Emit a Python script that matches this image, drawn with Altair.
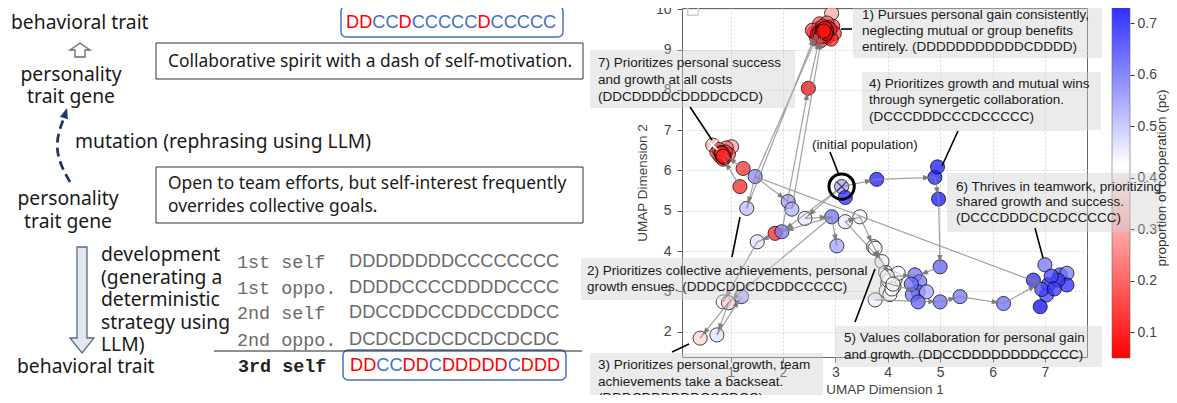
import math
import altair as alt
import pandas as pd

# ===================== data =====================
# UMAP scatter: dimension 1, dimension 2, proportion of cooperation (pc)
pt_x = [2.93, 2.60, 2.68, 2.78, 2.88, 2.74, 2.95, 2.64, 2.85, 2.72, 2.98, 2.80, 2.92, 2.70, 2.84, 2.56, 2.76, 2.66,
        2.74, 2.82, 2.78, 2.86, 2.70, 2.80, 2.90, 2.76, 2.84, 2.72,
        2.79, 2.81, 2.77, 2.83, 2.75, 2.80, 2.82, 2.78,
        2.485,
        0.66, 1.02, 0.92, 0.80, 0.88, 0.74, 0.96, 0.86, 0.78, 0.84, 0.90, 0.82, 0.88,
        0.85, 0.87, 0.83, 0.86,
        1.24, 1.18, 1.47, 1.31, 2.10, 2.17, 3.12, 3.19, 3.79, 2.42, 2.93, 3.19, 3.47, 1.85, 1.98, 1.51, 3.03, 3.73,
        0.86, 0.96, 1.21, 0.42, 0.74, 4.90, 4.95, 4.97, 5.00,
        3.76, 3.89, 3.96, 4.06, 4.00, 4.12, 3.97, 4.14, 4.04, 4.20, 3.76, 4.02, 4.08, 3.99, 4.10,
        4.52, 4.61, 4.58, 4.47, 4.74, 4.58, 4.45, 5.00, 5.38, 6.21,
        7.00, 6.78, 7.06, 7.03, 6.91, 7.29, 7.42, 7.42, 7.25, 7.12, 6.94, 7.18]
pt_y = [9.90, 9.42, 9.52, 9.56, 9.47, 9.36, 9.58, 9.30, 9.31, 9.22, 9.40, 9.44, 9.26, 9.64, 9.66, 9.48, 9.46, 9.40,
        9.50, 9.38, 9.45, 9.55, 9.42, 9.34, 9.50, 9.58, 9.44, 9.32,
        9.47, 9.43, 9.51, 9.49, 9.44, 9.53, 9.40, 9.46,
        8.04,
        6.63, 6.59, 6.56, 6.36, 6.42, 6.46, 6.40, 6.28, 6.52, 6.38, 6.46, 6.44, 6.32,
        6.41, 6.37, 6.43, 6.35,
        6.05, 5.60, 5.85, 5.06, 5.23, 5.04, 5.60, 5.33, 5.78, 4.81, 4.85, 4.73, 4.85, 4.44, 4.48, 4.23, 4.13, 4.11,
        2.74, 2.72, 2.87, 1.84, 1.92, 5.83, 6.09, 5.29, 3.61,
        4.07, 3.74, 3.47, 3.36, 3.20, 3.12, 3.02, 3.30, 2.92, 3.45, 2.79, 3.26, 3.06, 3.38, 3.18,
        3.41, 3.24, 2.99, 2.92, 2.99, 2.74, 3.18, 2.74, 2.87, 2.70,
        3.66, 3.28, 3.16, 2.91, 2.62, 3.41, 3.45, 3.16, 3.28, 3.38, 3.05, 3.06]
pt_pc = [0.30, 0.12, 0.10, 0.08, 0.12, 0.10, 0.16, 0.14, 0.09, 0.11, 0.14, 0.07, 0.10, 0.18, 0.20, 0.15, 0.06, 0.09,
         0.08, 0.10, 0.07, 0.12, 0.09, 0.11, 0.10, 0.13, 0.08, 0.12,
         0.08, 0.09, 0.07, 0.10, 0.08, 0.09, 0.07, 0.08,
         0.06,
         0.30, 0.28, 0.22, 0.12, 0.10, 0.16, 0.18, 0.12, 0.20, 0.10, 0.14, 0.11, 0.13,
         0.10, 0.11, 0.12, 0.10,
         0.12, 0.10, 0.60, 0.52, 0.57, 0.54, 0.56, 0.74, 0.76, 0.46, 0.63, 0.46, 0.44, 0.10, 0.62, 0.47, 0.56, 0.43,
         0.42, 0.35, 0.56, 0.36, 0.47, 0.76, 0.76, 0.77, 0.66,
         0.42, 0.45, 0.43, 0.42, 0.41, 0.43, 0.42, 0.44, 0.41, 0.44, 0.45, 0.42, 0.43, 0.41, 0.44,
         0.63, 0.63, 0.66, 0.63, 0.56, 0.66, 0.64, 0.64, 0.63, 0.64,
         0.63, 0.74, 0.72, 0.70, 0.78, 0.70, 0.62, 0.74, 0.72, 0.70, 0.70, 0.72]
assert len(pt_x) == len(pt_y) == len(pt_pc)

# evolution arrows (parent -> offspring) in UMAP coordinates
ar_x0 = [1.98, 2.485, 1.31, 2.17, 1.47, 1.18, 1.24, 1.47, 1.47, 1.47, 3.12, 3.79, 4.90, 4.97, 5.00, 3.12, 2.93,
         2.93, 2.42, 1.51, 1.98, 0.96, 0.96, 0.74, 2.93, 3.19, 3.47, 3.73, 3.89, 4.06, 4.00, 3.76, 5.00, 5.38,
         6.21, 3.19, 3.12]
ar_y0 = [4.48, 8.04, 5.06, 5.04, 5.85, 5.60, 6.05, 5.85, 5.85, 5.85, 5.60, 5.78, 5.83, 5.29, 3.61, 5.60, 4.85,
         4.85, 4.81, 4.23, 4.48, 2.72, 2.72, 1.92, 4.85, 4.73, 4.85, 4.11, 3.74, 3.36, 3.20, 2.79, 2.74, 2.87,
         2.70, 4.73, 5.60]
ar_x1 = [2.485, 2.70, 2.62, 2.74, 2.66, 0.86, 0.90, 1.31, 6.94, 2.10, 3.79, 4.90, 4.97, 5.00, 4.55, 1.98, 1.98,
         0.96, 2.93, 0.86, 1.51, 0.42, 0.74, 1.21, 3.03, 3.47, 3.73, 3.89, 4.06, 4.52, 4.58, 5.00, 5.38, 6.21,
         6.90, 3.89, 2.42]
ar_y1 = [8.04, 9.30, 9.38, 9.30, 9.36, 6.30, 6.38, 5.06, 3.18, 5.23, 5.78, 5.83, 5.29, 3.61, 3.38, 4.48, 4.48,
         2.72, 4.85, 2.74, 4.23, 1.84, 1.92, 2.87, 4.13, 4.85, 4.11, 3.74, 3.36, 3.41, 2.99, 2.74, 2.87, 2.70,
         3.20, 3.74, 4.81]

initial_xy = (3.12, 5.60)
cross7_xy = (0.66, 6.63)
pc_range = [0.05, 0.8]
pc_ticks = [0.1, 0.2, 0.3, 0.4, 0.5, 0.6, 0.7]
x_ticks = [1, 2, 3, 4, 5, 6, 7]
y_ticks = [2, 3, 4, 5, 6, 7, 8, 9, 10]

ann_text = {
    "1": ["1) Pursues personal gain consistently,", "neglecting mutual or group benefits",
          "entirely. (DDDDDDDDDDDCDDDD)"],
    "4": ["4) Prioritizes growth and mutual wins", "through synergetic collaboration.", "(DCCCDDDCCCDCCCCC)"],
    "7": ["7) Prioritizes personal success", "and growth at all costs", "(DDCDDDDCDDDDCDCD)"],
    "6": ["6) Thrives in teamwork, prioritizing", "shared growth and success.", "(DCCCDDDCDCDCCCCC)"],
    "5": ["5) Values collaboration for personal gain", "and growth. (DDCCDDDDDDDDCCCC)"],
    "2": ["2) Prioritizes collective achievements, personal", "growth ensues. (DDDCDDCDCDDCCCCC)"],
    "3": ["3) Prioritizes personal growth, team", "achievements take a backseat.", "(DDDCDDDDDDCCCDCC)"],
}
initial_label = "(initial population)"
cbar_title = "proportion of cooperation (pc)"

# diagram texts
lbl_behavior = "behavioral trait"
lbl_gene = ["personality", "trait gene"]
lbl_mutation = "mutation (rephrasing using LLM)"
lbl_dev = ["development", "(generating a", "deterministic", "strategy using", "LLM)"]
gene_new = "Collaborative spirit with a dash of self-motivation."
gene_old = ["Open to team efforts, but self-interest frequently", "overrides collective goals."]
seq_top = "DDCCDCCCCCDCCCCC"
table_labels = ["1st self", "1st oppo.", "2nd self", "2nd oppo."]
table_seqs = ["DDDDDDDDCCCCCCCC", "DDDDCCCCDDDDCCCC", "DDCCDDCCDDCCDDCC", "DCDCDCDCDCDCDCDC"]
third_label = "3rd self"
seq_third = "DDCCDDCDDDDDCDDD"

# ===================== layout (page pixels) =====================
OX, OY = 682, 8          # plot-area origin on the page
W, H = 405, 349
XMIN, XMAX = 0.074, 7.803
YMIN, YMAX = 1.372, 10.032
KX = W / (XMAX - XMIN)
KY = H / (YMAX - YMIN)

RED, BLUE = "#ff0000", "#4472c4"
DARK = "#1a1a1a"
SANS = "Liberation Sans"
DIAG = "Noto Sans"
MONO = "Liberation Mono"

xs = alt.Scale(domain=[XMIN, XMAX], nice=False, zero=False)
ys = alt.Scale(domain=[YMIN, YMAX], nice=False, zero=False)
xaxis = alt.Axis(values=x_ticks, title="UMAP Dimension 1", grid=True, domain=False, labelFlush=False,
                 tickSize=5, labelPadding=3, titlePadding=3)
yaxis = alt.Axis(values=y_ticks, title="UMAP Dimension 2", grid=True, domain=False, labelFlush=False,
                 tickSize=5, labelPadding=6, titlePadding=6, orient="left")
XE = alt.X("x:Q", scale=xs, axis=xaxis)
YE = alt.Y("y:Q", scale=ys, axis=yaxis)


def PX(v):
    return alt.X(f"{v}:Q", scale=None, axis=None)


def PY(v):
    return alt.Y(f"{v}:Q", scale=None, axis=None)


def pix_text(rows, **mk):
    df = pd.DataFrame([{"px": x - OX, "py": y - OY, "t": t} for t, x, y in rows])
    return alt.Chart(df).mark_text(baseline="middle", **mk).encode(x=PX("px"), y=PY("py"), text="t:N")


def pix_rects(rows, **mk):
    df = pd.DataFrame([{"px": a - OX, "px2": b - OX, "py": c - OY, "py2": d - OY} for a, b, c, d in rows])
    return alt.Chart(df).mark_rect(**mk).encode(x=PX("px"), x2="px2:Q", y=PY("py"), y2="py2:Q")


def pix_rules(rows, **mk):
    df = pd.DataFrame([{"px": a - OX, "px2": c - OX, "py": b - OY, "py2": d - OY} for a, b, c, d in rows])
    return alt.Chart(df).mark_rule(**mk).encode(x=PX("px"), x2="px2:Q", y=PY("py"), y2="py2:Q")


# ---------------- colour bar (gradient rect + its own axis) ----------------
pcs = alt.Scale(domain=pc_range, range=[358 - OY, -28 - OY], nice=False, zero=False)
pcaxis = alt.Axis(orient="right", offset=1130 - (OX + W), values=pc_ticks, format=".1f", title=None,
                  grid=False, domain=False, tickSize=4, labelPadding=3, labelFlush=False, tickColor="#333")
grad = alt.LinearGradient(gradient="linear", x1=0, x2=0, y1=1, y2=0,
                          stops=[alt.GradientStop(color="#ff0000", offset=0),
                                 alt.GradientStop(color="#ffffff", offset=0.5),
                                 alt.GradientStop(color="#0000ff", offset=1)])
df_cb = pd.DataFrame({"px": [1112 - OX], "px2": [1130 - OX], "lo": [pc_range[0]], "hi": [pc_range[1]]})
cbar = alt.Chart(df_cb).mark_rect(fill=grad, stroke="#666", strokeWidth=0.6).encode(
    x=PX("px"), x2="px2:Q", y=alt.Y("lo:Q", scale=pcs, axis=pcaxis), y2="hi:Q")

# ---------------- scatter ----------------
df_pts = pd.DataFrame({"x": pt_x, "y": pt_y, "pc": pt_pc})
color = alt.Color("pc:Q",
                  scale=alt.Scale(domain=[0.05, 0.425, 0.8], range=["#ff0000", "#ffffff", "#0000ff"],
                                  interpolate="rgb"),
                  legend=None)
points = alt.Chart(df_pts).mark_circle(size=200, fillOpacity=0.75, stroke="#000", strokeWidth=0.9,
                                       strokeOpacity=0.8).encode(x=XE, y=YE, color=color)

df_ar = pd.DataFrame({"x": ar_x0, "y": ar_y0, "x2": ar_x1, "y2": ar_y1})
arrows = alt.Chart(df_ar).mark_rule(color="#8a8a8a", strokeWidth=1.2, opacity=0.8).encode(
    x=XE, y=YE, x2="x2:Q", y2="y2:Q")

heads = []
for x0, y0, x1, y1 in zip(ar_x0, ar_y0, ar_x1, ar_y1):
    dxp, dyp = (x1 - x0) * KX, (y1 - y0) * KY
    L = math.hypot(dxp, dyp)
    back = 8.0
    hx = x1 - dxp / L * back / KX
    hy = y1 - dyp / L * back / KY
    ang = math.degrees(math.atan2(dxp, dyp)) % 360
    heads.append({"x": hx, "y": hy, "ang": ang})
arrow_heads = alt.Chart(pd.DataFrame(heads)).mark_point(
    shape="M0,-1L0.7,1L-0.7,1Z", filled=True, size=60, color="#777", opacity=0.9).encode(
    x=XE, y=YE, angle=alt.Angle("ang:Q", scale=None))

df_init = pd.DataFrame({"x": [initial_xy[0]], "y": [initial_xy[1]]})
df_c7 = pd.DataFrame({"x": [cross7_xy[0]], "y": [cross7_xy[1]]})
XSHAPE = "M-1,-1L1,1M-1,1L1,-1"
init_cross = alt.Chart(df_init).mark_point(shape=XSHAPE, filled=False, size=90, strokeWidth=1.3,
                                           color="#111").encode(x=XE, y=YE)
init_ring = alt.Chart(df_init).mark_point(shape="circle", filled=False, size=640, strokeWidth=3,
                                          color="#000", opacity=1).encode(x=XE, y=YE)
c7_cross = alt.Chart(df_c7).mark_point(shape=XSHAPE, filled=False, size=90, strokeWidth=1.6,
                                       color="#ffffff", opacity=1).encode(x=XE, y=YE)

data_layers = alt.layer(points, arrows, arrow_heads, init_cross, init_ring, c7_cross)

legend_box = alt.Chart(pd.DataFrame({"px": [693 - OX], "py": [10 - OY]})).mark_point(
    shape="square", filled=False, size=110, color="#d0d0d0", strokeWidth=1.5, opacity=1).encode(
    x=PX("px"), y=PY("py"))

# ---------------- annotation boxes ----------------
ann_boxes = pix_rects([
    (853, 1102, 0, 58),     # 1
    (862, 1101, 72, 130),   # 4
    (590, 795, 50, 108),    # 7
    (947, 1163, 173, 232),  # 6
    (835, 1102, 326, 367),  # 5
    (581, 883, 258, 300),   # 2
    (590, 823, 353, 410),   # 3
], fill="#cccccc", opacity=0.4)

ann_pos = {"1": (862, [15, 31, 47]), "4": (869, [84, 100, 117]), "7": (598, [63, 80, 97]),
           "6": (956, [187, 202, 218]), "5": (844, [338, 355]), "2": (587, [271, 287]),
           "3": (598, [365, 382, 398])}
ann_rows = []
for k, (lx, lys) in ann_pos.items():
    for t, yy in zip(ann_text[k], lys):
        ann_rows.append((t, lx, yy))
ann_rows.append((initial_label, 812, 145))
ann_texts = pix_text(ann_rows, align="left", font=SANS, fontSize=13.5, color=DARK)

leaders = pix_rules([
    (841, 29, 852, 29), (690, 107, 712, 140), (958, 131, 942, 166), (830, 152, 839, 175),
    (1035, 228, 1043, 258), (855, 322, 875, 269), (732, 257, 740, 217), (672, 352, 689, 344),
], color="#000", strokeWidth=1.6)

cbar_lbl = pix_text([(cbar_title, 1162, 178)], align="center", font=SANS, fontSize=13.5, color="#333",
                    angle=270)

# ---------------- left diagram ----------------
diag_left = pix_text([
    (lbl_behavior, 11, 23), (lbl_mutation, 75, 142),
    (lbl_dev[0], 101, 255), (lbl_dev[1], 101, 278), (lbl_dev[2], 101, 300), (lbl_dev[3], 101, 323),
    (lbl_dev[4], 101, 345), (lbl_behavior, 17, 367),
], align="left", font=DIAG, fontSize=19.3, color=DARK)
diag_center = pix_text([
    (lbl_gene[0], 71, 75), (lbl_gene[1], 71, 97), (lbl_gene[0], 68, 199), (lbl_gene[1], 68, 222),
], align="center", font=DIAG, fontSize=19.3, color=DARK)
gene_texts = pix_text([(gene_new, 168, 62), (gene_old[0], 168, 184), (gene_old[1], 168, 207)],
                      align="left", font=DIAG, fontSize=17.4, color=DARK)
gene_boxes = pix_rects([(156, 583, 43, 79), (156, 583, 167, 223)],
                       fill="#ffffff", fillOpacity=0, stroke="#333", strokeWidth=1)
seq_boxes = pix_rects([(341, 563, 6, 37), (343, 566, 350, 380)],
                      fill="#ffffff", fillOpacity=0, stroke=BLUE, strokeWidth=1.5, cornerRadius=5)

row_ys = [262, 288, 313, 340]
tbl_labels = pix_text([(t, 237, yy) for t, yy in zip(table_labels, row_ys)],
                      align="left", font=MONO, fontSize=18.4, color="#6a6a6a")
tbl_third = pix_text([(third_label, 238, 366)], align="left", font=MONO, fontSize=18.4,
                     color="#222", fontWeight="bold")
tbl_seqs = pix_text([(t, 349, yy) for t, yy in zip(table_seqs, row_ys)],
                    align="left", font=SANS, fontSize=18.2, color="#6a6a6a")
tbl_line = pix_rules([(214, 351, 582, 351)], color="#222", strokeWidth=1.2)


def colored_seq(seq, x0, yy, step):
    rows = [{"px": x0 + i * step - OX, "py": yy - OY, "t": ch, "c": RED if ch == "D" else BLUE}
            for i, ch in enumerate(seq)]
    return alt.Chart(pd.DataFrame(rows)).mark_text(align="left", baseline="middle", font=SANS,
                                                   fontSize=18.2).encode(
        x=PX("px"), y=PY("py"), text="t:N", color=alt.Color("c:N", scale=None))


seq1 = colored_seq(seq_top, 346, 23, 13.14)
seq3 = colored_seq(seq_third, 350, 366, 13.14)

UP = "M0,-0.7L1,0L0.5,0L0.5,0.7L-0.5,0.7L-0.5,0L-1,0Z"
DOWN = "M-0.094,-1L0.094,-1L0.094,0.717L0.226,0.717L0,1L-0.226,0.717L-0.094,0.717Z"
up_arrow = alt.Chart(pd.DataFrame({"px": [80 - OX], "py": [50 - OY]})).mark_point(
    shape=UP, size=400, filled=True, fill="#ffffff", stroke="#5b6b80", strokeWidth=1.3, opacity=1).encode(
    x=PX("px"), y=PY("py"))
down_arrow = alt.Chart(pd.DataFrame({"px": [82 - OX], "py": [300 - OY]})).mark_point(
    shape=DOWN, size=11236, filled=True, fill="#e3e8f0", stroke="#5b6b80", strokeWidth=1.3, opacity=1).encode(
    x=PX("px"), y=PY("py"))

curve = pd.DataFrame({"px": [70 - OX, 61 - OX, 56.5 - OX, 58 - OX, 64 - OX],
                      "py": [182 - OY, 166 - OY, 150 - OY, 133 - OY, 118 - OY], "o": [0, 1, 2, 3, 4]})
dash_curve = alt.Chart(curve).mark_line(strokeDash=[9, 5], strokeWidth=2.8, color="#203864",
                                        interpolate="basis").encode(x=PX("px"), y=PY("py"), order="o:O")
dash_head = alt.Chart(pd.DataFrame({"px": [65.5 - OX], "py": [113 - OY], "ang": [18]})).mark_point(
    shape="M0,-1L0.8,1L-0.8,1Z", filled=True, size=110, color="#203864", opacity=1).encode(
    x=PX("px"), y=PY("py"), angle=alt.Angle("ang:Q", scale=None))

chart = alt.layer(
    cbar, data_layers, legend_box,
    ann_boxes, leaders, ann_texts, cbar_lbl,
    gene_boxes, seq_boxes, gene_texts, diag_left, diag_center, tbl_labels, tbl_third, tbl_seqs, tbl_line,
    seq1, seq3, up_arrow, down_arrow, dash_curve, dash_head,
).resolve_scale(y="independent").properties(
    width=W, height=H,
    autosize=alt.AutoSizeParams(type="none"),
    padding={"left": OX - 8, "top": OY - 8, "right": 1161 - (OX - 8) - W, "bottom": 387 - H},
).configure_view(stroke="#666", strokeWidth=1).configure_axis(
    labelFont=SANS, titleFont=SANS, labelFontSize=14, titleFontSize=13.5, labelColor="#444",
    titleColor="#444", titleFontWeight="normal", tickColor="#555", gridColor="#d2d2d2", gridDash=[2, 2],
    gridWidth=0.9,
)

chart.save("out.html", embed_options={"renderer": "svg", "actions": False})
